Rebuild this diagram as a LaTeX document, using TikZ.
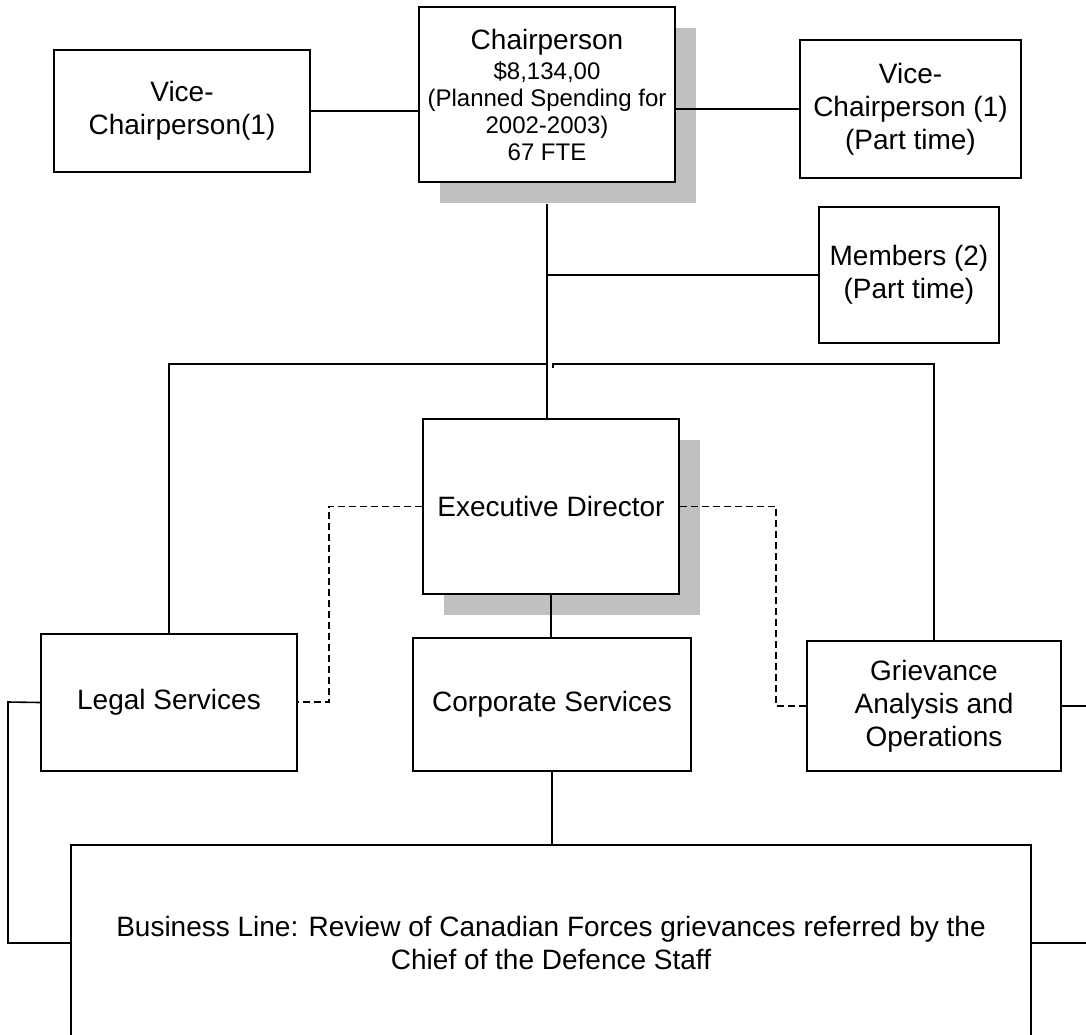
\documentclass[tikz,border=0pt]{standalone}
\usepackage{fontspec}
\setmainfont{Liberation Sans}
\usetikzlibrary{positioning, shadows}
\definecolor{ShadeGrey}{HTML}{C0C0C0}
\newcommand{\bigtxt}{\fontsize{28}{33}\selectfont}
\newcommand{\smalltxt}{\fontsize{24}{27}\selectfont}

\begin{document}
\begin{tikzpicture}[x=1pt, y=-1pt,
    unit/.style={rectangle, draw, fill=white, line width=1.6pt, inner sep=0pt, align=center, font=\bigtxt},
    shadowed/.style={drop shadow={shadow xshift=21pt, shadow yshift=-21pt, fill=ShadeGrey, opacity=1}},
    link/.style={draw, line width=1.6pt},
    dashlink/.style={link, dash pattern=on 7pt off 4pt}
]
\clip (0,0) rectangle (1086,1034);
\fill[white] (0,0) rectangle (1086,1034);

\node[unit, shadowed, minimum width=256pt, minimum height=175pt, font=\smalltxt] (chair) at (547,94.5) {{\bigtxt Chairperson}\\[3pt]\$8,134,00\\(Planned Spending for\\2002-2003)\\67 FTE};
\node[unit, minimum width=256pt, minimum height=122pt] (vicel) at (182,111) {Vice-\\Chairperson(1)};
\node[unit, minimum width=221pt, minimum height=138pt] (vicer) at (910.5,109) {Vice-\\Chairperson (1)\\(Part time)};
\node[unit, minimum width=180pt, minimum height=136pt] (members) at (909,275) {Members (2)\\(Part time)};
\node[unit, shadowed, minimum width=256pt, minimum height=175pt] (exec) at (551,506.5) {Executive Director};
\node[unit, minimum width=256pt, minimum height=137pt] (legal) at (169,702.5) {Legal Services};
\node[unit, minimum width=278pt, minimum height=133pt] (corp) at (552,704.5) {Corporate Services};
\node[unit, minimum width=254pt, minimum height=130pt] (griev) at (934,706) {Grievance\\Analysis and\\Operations};
\node[unit, minimum width=960pt, minimum height=196pt] (bus) at (551,943) {Business Line: Review of Canadian Forces grievances referred by the\\Chief of the Defence Staff};

\coordinate (bar) at (547,364);
\coordinate (tick) at (553,368);
\coordinate (dl) at (329,702);
\coordinate (dr) at (776,706);
\coordinate (ll) at (8,702);
\coordinate (gr) at (1090,706);
\coordinate (br) at (1090,943);

\draw[link] (vicel.east) -- (vicel.east -| chair.west);
\draw[link] (chair.east |- vicer.west) -- (vicer.west);
\draw[link] ([yshift=-21pt]chair.south) -- (chair.south |- exec.north);
\draw[link] (chair.south |- members.west) -- (members.west);
\draw[link] (legal.north) |- (bar);
\draw[link] (tick) -- ++(0,-4) -| (griev.north);
\draw[link] (exec.south) -- (exec.south |- corp.north);
\draw[link] (corp.south) -- (corp.south |- bus.north);
\draw[dashlink] (exec.west) -| (dl) -- (legal.east |- dl);
\draw[dashlink] (exec.east) -| (dr) -- (dr -| griev.west);
\draw[link] (legal.west) -- (ll) |- (bus.west);
\draw[link] (griev.east) -- (gr);
\draw[link] (bus.east) -- (br);
\end{tikzpicture}
\end{document}
